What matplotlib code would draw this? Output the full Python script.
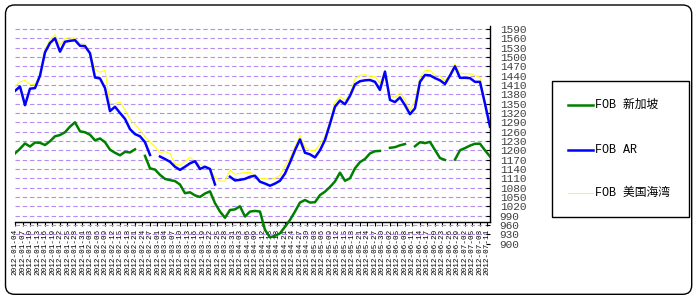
import numpy as np
import pandas as pd
import matplotlib
matplotlib.use('Agg')
import matplotlib.pyplot as plt
from matplotlib.patches import FancyBboxPatch, Rectangle
from matplotlib.lines import Line2D
from matplotlib.transforms import IdentityTransform
from matplotlib.ticker import FixedLocator, FixedFormatter
import matplotlib.dates as mdates

plt.rcParams['font.family'] = ['Liberation Mono', 'Noto Sans CJK SC']

nan = np.nan
dates = pd.date_range('2012-01-04', periods=96, freq='2D')
tick_dates = pd.date_range(dates[0], dates[-1], freq='3D')
tick_labels = [d.strftime('%Y-%m-%d') for d in tick_dates]
y_ticks = list(range(900, 1591, 30))

series_names = ['FOB 新加坡', 'FOB AR', 'FOB 美国海湾']

fob_sg = [1190, 1205, 1222, 1212, 1225, 1224, 1217, 1229, 1245, 1249,
          1258, 1276, 1290, 1261, 1258, 1250, 1232, 1238, 1226, 1202,
          1192, 1184, 1195, 1193, 1203, nan, 1182, 1142, 1138, 1121,
          1108, 1104, 1101, 1090, 1062, 1065, 1055, 1050, 1061, 1068,
          1030, 1003, 983, 1008, 1010, 1020, 987, 1003, 1005, 1003,
          944, 920, 925, 933, 954, 976, 1003, 1032, 1040, 1032,
          1033, 1056, 1067, 1082, 1100, 1128, 1102, 1110, 1142, 1162,
          1172, 1190, 1197, 1198, nan, 1208, 1210, 1216, 1220, nan,
          1213, 1226, 1223, 1227, 1201, 1175, 1169, nan, 1170, 1200,
          1207, 1215, 1221, 1221, 1200, 1180]

fob_ar = [1391, 1405, 1345, 1398, 1400, 1440, 1515, 1545, 1560, 1517,
          1549, 1552, 1554, 1536, 1535, 1512, 1434, 1431, 1400, 1326,
          1340, 1320, 1301, 1268, 1252, 1245, 1226, 1185, nan, 1180,
          1172, 1163, 1147, 1137, 1147, 1158, 1165, 1140, 1147, 1140,
          1090, nan, nan, 1115, 1103, 1105, 1108, 1115, 1118, 1099,
          1093, 1086, 1093, 1102, 1125, 1161, 1200, 1235, 1192, 1187,
          1177, 1200, 1233, 1285, 1340, 1360, 1348, 1375, 1412, 1422,
          1425, 1426, 1420, 1394, 1453, 1362, 1355, 1370, 1345, 1316,
          1335, 1420, 1442, 1441, 1432, 1425, 1413, 1440, 1470, 1433,
          1433, 1432, 1420, 1420, 1350, 1276]

fob_usg = [1405, 1420, 1425, 1412, 1412, 1442, 1525, 1555, 1572, 1539,
           1559, 1562, 1560, 1544, 1541, 1515, 1460, 1451, 1457, 1351,
           1350, 1355, 1330, 1300, 1284, 1265, 1244, 1227, 1212, 1192,
           1196, 1190, 1155, 1152, 1164, 1178, 1163, 1153, 1150, 1140,
           1112, 1101, 1101, 1137, 1123, 1126, 1128, 1129, 1120, 1108,
           1110, 1105, 1110, 1120, 1150, 1175, 1212, 1248, 1210, 1200,
           1199, 1220, 1245, 1295, 1355, 1372, 1362, 1380, 1430, 1441,
           1443, 1438, 1437, 1415, 1455, 1376, 1370, 1385, 1362, 1328,
           1360, 1435, 1456, 1457, 1440, 1440, 1423, 1445, 1478, 1448,
           1446, 1446, 1440, 1435, 1350, 1290]

colors = ['#008000', '#0000ff', '#ffff00']
widths = [1.8, 1.8, 0.75]

fig = plt.figure(figsize=(6.99, 3.02), dpi=100)
fig.patch.set_facecolor('white')

# rounded outer frame
fig.add_artist(FancyBboxPatch((5.5, 302 - 294.3), 686.2, 289.3,
                              boxstyle='round,pad=0,rounding_size=9',
                              transform=IdentityTransform(), fill=False,
                              edgecolor='black', lw=1))

ax = fig.add_axes([0.02146, 0.1934, 0.6795, 0.7209])
ax.set_xlim(dates[0], dates[-1])
ax.set_ylim(900, 1600)

ax.plot(dates, fob_sg, color=colors[0], lw=widths[0], zorder=3)
ax.plot(dates, fob_usg, color=colors[2], lw=widths[2], zorder=3)
ax.plot(dates, fob_ar, color=colors[1], lw=widths[1], zorder=4)

ax.set_yticks(y_ticks)
ax.yaxis.tick_right()
ax.yaxis.grid(True, color='#b58cf5', lw=0.8, linestyle=(0, (4, 2.5)))
ax.set_axisbelow(True)
ax.tick_params(axis='y', direction='in', length=3, width=0.8, pad=7,
               labelsize=8, labelcolor='#404040', color='black')

ax.xaxis.set_major_locator(FixedLocator(mdates.date2num(tick_dates)))
ax.xaxis.set_major_formatter(FixedFormatter(tick_labels))
ax.tick_params(axis='x', direction='out', length=3, width=0.8, pad=2,
               labelsize=5.5, labelrotation=90)

for s in ['left', 'top']:
    ax.spines[s].set_visible(False)
ax.spines['bottom'].set_position(('data', 970))
ax.spines['right'].set_bounds(970, 1600)
ax.spines['bottom'].set_linewidth(1)
ax.spines['right'].set_linewidth(1)

# legend box
fig.add_artist(Rectangle((552 / 699, 1 - 217 / 302), 137 / 699, 136 / 302,
                         transform=fig.transFigure, fill=False,
                         edgecolor='black', lw=1))
rows = [105, 150, 193]
for name, c, w, r in zip(series_names, colors, widths, rows):
    yy = 1 - r / 302
    fig.add_artist(Line2D([568 / 699, 593 / 699], [yy, yy], color=c, lw=w,
                          transform=fig.transFigure))
    fig.text(595 / 699, yy, name, fontsize=8.5, va='center', ha='left')

fig.savefig('out.png', dpi=100)
